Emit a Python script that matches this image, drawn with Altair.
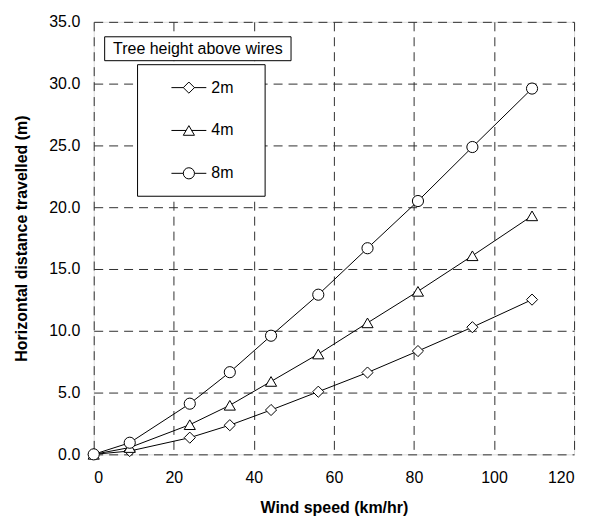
import altair as alt
import pandas as pd

# ---- data ----
wind_speed = [0, 9, 24, 34, 44.3, 56.1, 68.4, 81, 94.6, 109.5]
dist_2m = [0, 0.27, 1.35, 2.36, 3.59, 5.07, 6.62, 8.36, 10.29, 12.52]
dist_4m = [0, 0.55, 2.4, 3.97, 5.9, 8.12, 10.64, 13.19, 16.07, 19.3]
dist_8m = [0, 0.94, 4.1, 6.65, 9.6, 12.92, 16.68, 20.5, 24.87, 29.6]
series_names = ["2m", "4m", "8m"]
series_shapes = ["diamond", "triangle-up", "circle"]
x_ticks = [0, 20, 40, 60, 80, 100, 120]
y_ticks = [0, 5, 10, 15, 20, 25, 30, 35]
legend_caption = "Tree height above wires"
x_title = "Wind speed (km/hr)"
y_title = "Horizontal distance travelled (m)"

FONT = "Liberation Sans"

rows = []
for name, vals in zip(series_names, [dist_2m, dist_4m, dist_8m]):
    for xv, yv in zip(wind_speed, vals):
        rows.append({"speed": xv, "dist": yv, "series": name})
df = pd.DataFrame(rows)

x_axis = alt.Axis(
    values=x_ticks, format="d", title=x_title, grid=True,
    gridDash=[9, 6], gridColor="#303030", gridOpacity=1, gridWidth=1,
    ticks=False, domain=False, labelFontSize=16, labelPadding=15,
    labelColor="black", labelFont=FONT,
    titleFontSize=16, titleFontWeight="bold", titleFont=FONT,
    titleColor="black", titleBaseline="middle", titleY=53,
)
y_axis = alt.Axis(
    values=y_ticks, format=".1f", title=y_title, grid=True,
    gridDash=[9, 6], gridColor="#303030", gridOpacity=1, gridWidth=1,
    ticks=False, domain=False, labelFontSize=16, labelPadding=14,
    labelColor="black", labelFont=FONT,
    titleFontSize=16, titleFontWeight="bold", titleFont=FONT,
    titleColor="black", titleBaseline="middle", titleAlign="center",
    titleX=-72, titleY=217, titleAngle=270,
)
x_scale = alt.Scale(domain=[0, 120], nice=False)
y_scale = alt.Scale(domain=[0, 35], nice=False)
shape_scale = alt.Scale(domain=series_names, range=series_shapes)

lines = alt.Chart(df).mark_line(color="black", strokeWidth=1).encode(
    x=alt.X("speed:Q", scale=x_scale, axis=x_axis),
    y=alt.Y("dist:Q", scale=y_scale, axis=y_axis),
    detail="series:N",
)

points = alt.Chart(df).mark_point(
    fill="white", stroke="black", strokeWidth=1, size=125, opacity=1, filled=False
).encode(
    x=alt.X("speed:Q", scale=x_scale, axis=x_axis),
    y=alt.Y("dist:Q", scale=y_scale, axis=None),
    shape=alt.Shape("series:N", scale=shape_scale, legend=None),
)

# ---- legend (line + marker + label per series), rows placed by a point scale ----
leg_df = pd.DataFrame({"series": series_names})
leg_y = alt.Y(
    "series:N", sort=series_names,
    scale=alt.Scale(type="point", domain=series_names, range=[66, 152], padding=0),
    axis=None,
)

leg_box = alt.Chart(pd.DataFrame({"k": [0]})).mark_rect(
    fill="white", stroke="black", strokeWidth=1
).encode(x=alt.value(44), x2=alt.value(172), y=alt.value(43), y2=alt.value(175))

leg_lines = alt.Chart(leg_df).mark_rule(color="black", strokeWidth=1).encode(
    x=alt.value(78), x2=alt.value(113), y=leg_y
)
leg_marks = alt.Chart(leg_df).mark_point(
    fill="white", stroke="black", strokeWidth=1, size=125, opacity=1, filled=False
).encode(
    x=alt.value(95.5), y=leg_y,
    shape=alt.Shape("series:N", scale=shape_scale, legend=None),
)
leg_text = alt.Chart(leg_df).mark_text(
    fontSize=16, font=FONT, color="black", align="left", baseline="middle"
).encode(x=alt.value(118), y=leg_y, text="series:N")

cap_df = pd.DataFrame({"t": [legend_caption]})
cap_box = alt.Chart(cap_df).mark_rect(fill="white", stroke="black", strokeWidth=1).encode(
    x=alt.value(11), x2=alt.value(198), y=alt.value(15), y2=alt.value(39)
)
cap_text = alt.Chart(cap_df).mark_text(
    fontSize=16, font=FONT, color="black", align="center", baseline="middle"
).encode(x=alt.value(104.5), y=alt.value(27), text="t:N")

chart = alt.layer(
    lines, points, leg_box, leg_lines, leg_marks, leg_text, cap_box, cap_text
).resolve_scale(y="independent").properties(
    width=482, height=434,
    autosize=alt.AutoSizeParams(type="none"),
    padding={"left": 86, "top": 13, "right": 20, "bottom": 70},
).configure_view(stroke="black", strokeWidth=1).configure(background="white")

chart.save("out.html", embed_options={"renderer": "svg", "actions": False})
